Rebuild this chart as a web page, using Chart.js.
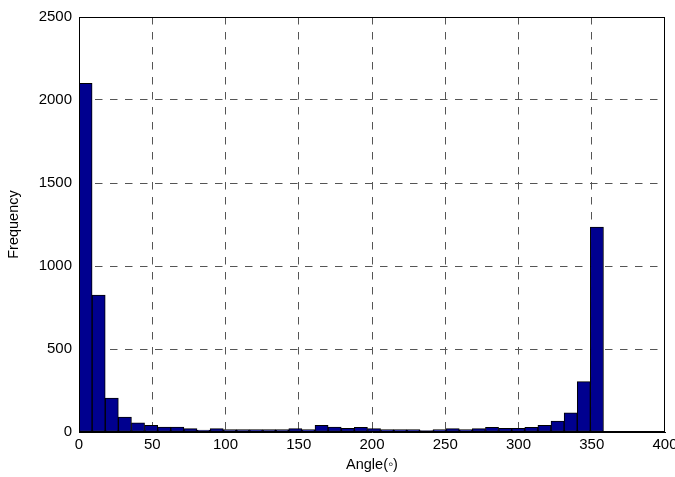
<!DOCTYPE html>
<html>
<head>
<meta charset="utf-8">
<script src="https://cdn.jsdelivr.net/npm/chart.js@4/dist/chart.umd.min.js"></script>
<style>
  html, body { margin: 0; padding: 0; background: #fff; }
  #wrap { width: 675px; height: 477px; position: relative; }
</style>
</head>
<body>
<div id="wrap"><canvas id="c"></canvas></div>
<script>
// Histogram bin centres (degrees), bin width 8.95
const binCenters = [4.475, 13.425, 22.375, 31.325, 40.275, 49.225, 58.175, 67.125, 76.075, 85.025,
  93.975, 102.925, 111.875, 120.825, 129.775, 138.725, 147.675, 156.625, 165.575, 174.525,
  183.475, 192.425, 201.375, 210.325, 219.275, 228.225, 237.175, 246.125, 255.075, 264.025,
  272.975, 281.925, 290.875, 299.825, 308.775, 317.725, 326.675, 335.625, 344.575, 353.525];
// Frequency per bin
const frequency = [2100, 825, 205, 90, 55, 40, 30, 30, 20, 12,
  20, 15, 15, 14, 15, 15, 20, 14, 40, 30,
  22, 28, 20, 14, 14, 14, 8, 14, 20, 14,
  20, 28, 22, 22, 28, 40, 66, 116, 303, 1235];
const xTicks = [0, 50, 100, 150, 200, 250, 300, 350, 400];
const yTicks = [0, 500, 1000, 1500, 2000, 2500];
const xTitle = 'Angle(\u25E6)';
const yTitle = 'Frequency';

const FONT = "'Liberation Sans', Arial, Helvetica, sans-serif";
const GRID = '#555';

const boxPlugin = {
  id: 'box',
  afterDraw(chart) {
    const { ctx, chartArea: a } = chart;
    const x1 = Math.round(a.left) + 0.5, x2 = Math.round(a.right) - 0.5;
    const y1 = Math.round(a.top) + 0.5, y2 = Math.round(a.bottom) - 0.5;
    ctx.save();
    ctx.strokeStyle = '#000';
    ctx.lineWidth = 1;
    ctx.setLineDash([]);
    ctx.strokeRect(x1, y1, x2 - x1, y2 - y1);
    ctx.restore();
  }
};

function innerGrid(min, max) {
  return c => (c.tick && (c.tick.value === min || c.tick.value === max)) ? 'rgba(0,0,0,0)' : GRID;
}

new Chart(document.getElementById('c'), {
  type: 'bar',
  data: {
    labels: binCenters,
    datasets: [{
      data: frequency,
      backgroundColor: '#00008F',
      borderColor: '#000000',
      borderWidth: 1,
      borderSkipped: false,
      barPercentage: 1.0,
      categoryPercentage: 1.0
    }]
  },
  options: {
    responsive: true,
    maintainAspectRatio: false,
    animation: false,
    devicePixelRatio: 1,
    layout: { padding: { left: 0, right: 10, top: 17, bottom: 0 } },
    plugins: { legend: { display: false }, tooltip: { enabled: false } },
    scales: {
      x: {
        type: 'linear',
        offset: false,
        min: 0, max: 400,
        afterBuildTicks(scale) { scale.ticks = xTicks.map(v => ({ value: v })); },
        afterFit(scale) { scale.height = 45; scale.paddingLeft = 0; scale.paddingRight = 0; },
        ticks: {
          color: '#000', padding: 4, maxRotation: 0, autoSkip: false,
          font: { family: FONT, size: 15 },
          callback: v => String(v)
        },
        grid: { color: innerGrid(0, 400), lineWidth: 1, drawTicks: false, offset: false },
        border: { display: true, color: '#000', width: 1, dash: [7.5, 7.5] },
        title: {
          display: true, text: xTitle, color: '#000',
          font: { family: FONT, size: 14.5 },
          padding: { top: 0, bottom: 3 }
        }
      },
      y: {
        type: 'linear',
        min: 0, max: 2500,
        afterBuildTicks(scale) { scale.ticks = yTicks.map(v => ({ value: v })); },
        afterFit(scale) { scale.width = 79; scale.paddingTop = 0; scale.paddingBottom = 0; },
        ticks: {
          color: '#000', padding: 7,
          font: { family: FONT, size: 15 },
          callback: v => String(v)
        },
        grid: { color: innerGrid(0, 2500), lineWidth: 1, drawTicks: false },
        border: { display: true, color: '#000', width: 1, dash: [7.5, 7.5] },
        title: {
          display: true, text: yTitle, color: '#000',
          font: { family: FONT, size: 14.5 },
          padding: { top: 5, bottom: 0 }
        }
      }
    }
  },
  plugins: [boxPlugin]
});
</script>
</body>
</html>
